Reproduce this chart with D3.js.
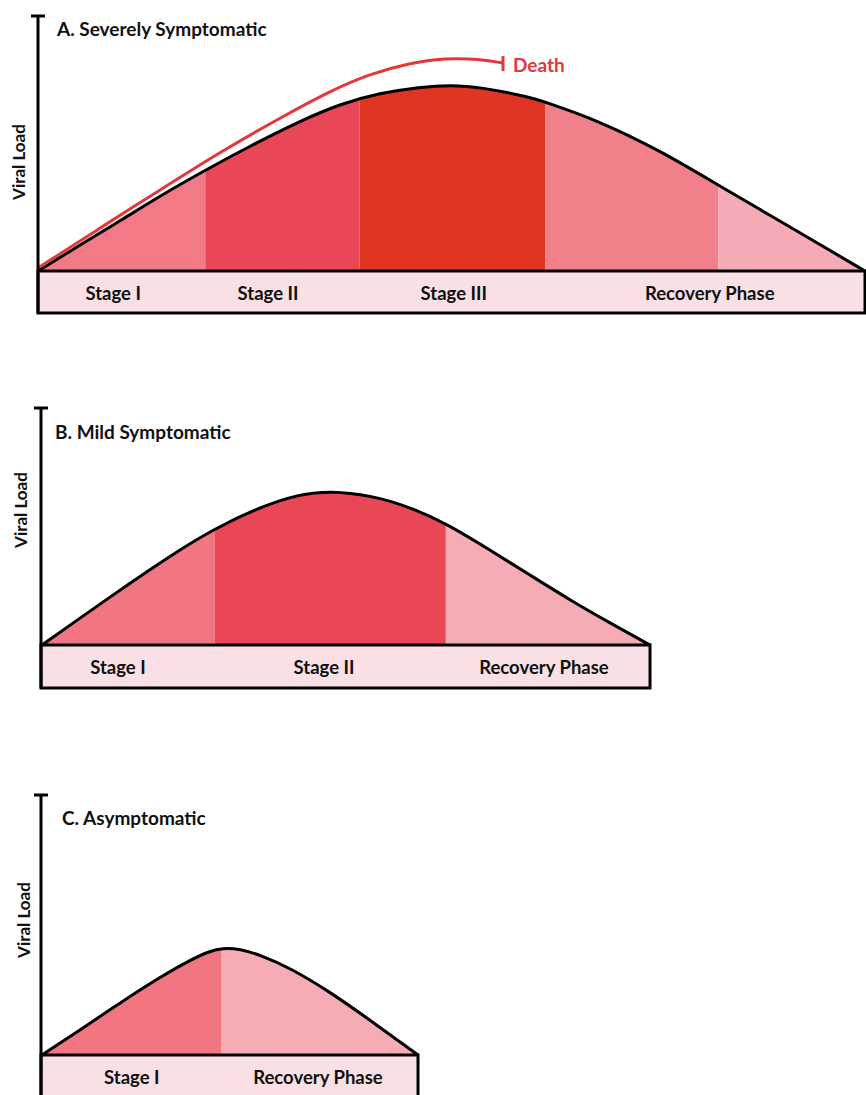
<!DOCTYPE html>
<html><head><meta charset="utf-8">
<script src="https://cdn.jsdelivr.net/npm/d3@7"></script>
<style>
html,body{margin:0;padding:0;background:#fff;}
svg{display:block;font-family:Lato,"Open Sans",sans-serif;font-weight:700;}
</style></head>
<body>
<script>
// ---------- DATA (time in days, viral load in relative units; peak of A = 100) ----------
const panelTitles = ["A. Severely Symptomatic", "B. Mild Symptomatic", "C. Asymptomatic"];
const yAxisLabel = "Viral Load";

// Panel A – severely symptomatic
const stagesA = ["Stage I", "Stage II", "Stage III", "Recovery Phase", ""];
const stageBoundsA = [0, 4.45, 8.55, 13.5, 18.1, 22];
const stageLabelPosA = [2.0, 6.12, 11.06, 17.87];
const stageColorsA = ["#f27a86", "#e94657", "#e03523", "#f2808a", "#f5abb5"];
const curveA = [[0,0],[1.12,14.0],[2.18,26.9],[3.24,40.3],[4.41,53.8],[5.64,67.2],[6.97,80.6],
  [8.03,89.8],[9.10,95.7],[10.16,98.9],[10.96,100],[11.76,98.9],[13.09,93.5],[13.48,90.9],
  [14.87,81.2],[16.62,64.0],[18.09,46.2],[20.19,21.5],[22,0]];
const deathLine = [[0,1.6],[1.65,23.1],[3.24,43.5],[4.89,64.5],[6.44,82.3],[7.77,96.8],[8.83,106.0],
  [9.89,111.8],[10.82,114.5],[11.76,114.0],[12.37,111.8]];
const deathLabel = "Death";

// Panel B – mild symptomatic
const stagesB = ["Stage I", "Stage II", "Recovery Phase"];
const stageBoundsB = [0, 4.6, 10.74, 16.17];
const stageLabelPosB = [2.02, 7.5, 13.35];
const stageColorsB = ["#f27681", "#e94656", "#f5acb5"];
const curveB = [[0,0],[1.01,14.5],[2.31,32.8],[3.40,47.8],[4.57,62.4],[5.80,74.2],[6.86,81.2],
  [7.66,82.8],[8.72,80.6],[9.79,74.2],[10.77,65.1],[11.91,51.1],[12.98,37.6],[14.04,24.2],
  [15.11,11.8],[16.17,0]];

// Panel C – asymptomatic
const stagesC = ["Stage I", "Recovery Phase"];
const stageBoundsC = [0, 4.76, 10];
const stageLabelPosC = [2.39, 7.34];
const stageColorsC = ["#f27681", "#f5acb5"];
const curveC = [[0,0],[1.01,13.4],[2.07,28.0],[3.14,41.9],[3.94,51.1],[4.47,55.9],[4.79,57.5],
  [5.27,57.0],[5.80,53.8],[6.60,46.8],[7.66,33.9],[8.72,18.8],[9.52,7.0],[10,0]];

// ---------- LAYOUT ----------
const W = 866, H = 1095;
const PEAK_PX = 186;          // pixel height of 100 load units
const layout = [
  {axisX:38, x0:38, x1:865, base:271, boxH:42, axisTop:16, titleX:57, titleY:36, vlX:18, vlY:162},
  {axisX:41, x0:42, x1:650, base:645, boxH:43, axisTop:408, titleX:55, titleY:439, vlX:20, vlY:510},
  {axisX:41, x0:42, x1:418, base:1055, boxH:48, axisTop:795, titleX:62, titleY:825, vlX:23, vlY:920}
];
const panels = [
  {title:panelTitles[0], stages:stagesA, bounds:stageBoundsA, labelPos:stageLabelPosA, colors:stageColorsA, curve:curveA, death:deathLine},
  {title:panelTitles[1], stages:stagesB, bounds:stageBoundsB, labelPos:stageLabelPosB, colors:stageColorsB, curve:curveB},
  {title:panelTitles[2], stages:stagesC, bounds:stageBoundsC, labelPos:stageLabelPosC, colors:stageColorsC, curve:curveC}
];

const svg = d3.select("body").append("svg").attr("width", W).attr("height", H);
const defs = svg.append("defs");
const interp = d3.curveBasis;

panels.forEach((p, i) => {
  const L = layout[i];
  const tEnd = p.bounds[p.bounds.length - 1];
  const x = d3.scaleLinear().domain([0, tEnd]).range([L.x0, L.x1]);
  const y = d3.scaleLinear().domain([0, 100]).range([L.base, L.base - PEAK_PX]);
  const g = svg.append("g");

  const area = d3.area().x(d => x(d[0])).y0(y(0)).y1(d => y(d[1])).curve(interp);
  const line = d3.line().x(d => x(d[0])).y(d => y(d[1])).curve(interp);

  const clipId = "clip" + i;
  defs.append("clipPath").attr("id", clipId).append("path").attr("d", area(p.curve));

  // stage fills
  g.append("g").attr("clip-path", `url(#${clipId})`)
    .selectAll("rect").data(p.colors).join("rect")
    .attr("x", (c, k) => x(p.bounds[k]))
    .attr("width", (c, k) => x(p.bounds[k + 1]) - x(p.bounds[k]))
    .attr("y", y(130)).attr("height", y(0) - y(130))
    .attr("fill", c => c);

  // curve outline
  g.append("path").attr("d", line(p.curve)).attr("fill", "none")
    .attr("stroke", "#000").attr("stroke-width", 3).attr("stroke-linejoin", "round");

  // death line
  if (p.death) {
    const red = "#e2383a";
    g.append("path").attr("d", line(p.death)).attr("fill", "none")
      .attr("stroke", red).attr("stroke-width", 3);
    const last = p.death[p.death.length - 1];
    g.append("line").attr("x1", x(last[0])).attr("x2", x(last[0]))
      .attr("y1", y(last[1]) - 7).attr("y2", y(last[1]) + 8)
      .attr("stroke", red).attr("stroke-width", 3);
    g.append("text").attr("x", x(last[0]) + 10).attr("y", y(last[1]) + 1)
      .attr("dominant-baseline", "central").attr("fill", red)
      .attr("font-size", 19).text(deathLabel);
  }

  // phase box
  g.append("rect").attr("x", L.axisX).attr("y", L.base)
    .attr("width", L.x1 - L.axisX).attr("height", L.boxH)
    .attr("fill", "#f8e0e5").attr("stroke", "#000").attr("stroke-width", 3);

  g.selectAll("text.stage").data(p.stages.filter(s => s)).join("text")
    .attr("class", "stage")
    .attr("x", (s, k) => x(p.labelPos[k]))
    .attr("y", L.base + 21.5)
    .attr("text-anchor", "middle").attr("dominant-baseline", "central")
    .attr("font-size", 18.5).attr("fill", "#111").text(s => s);

  // y axis with cap
  g.append("line").attr("x1", L.axisX).attr("x2", L.axisX)
    .attr("y1", L.axisTop).attr("y2", L.base + L.boxH)
    .attr("stroke", "#000").attr("stroke-width", 3);
  g.append("line").attr("x1", L.axisX - 7).attr("x2", L.axisX + 7)
    .attr("y1", L.axisTop).attr("y2", L.axisTop)
    .attr("stroke", "#000").attr("stroke-width", 3);

  // title
  g.append("text").attr("x", L.titleX).attr("y", L.titleY)
    .attr("font-size", 19).attr("fill", "#111").text(p.title);

  // y label
  g.append("text").attr("transform", `translate(${L.vlX},${L.vlY}) rotate(-90)`)
    .attr("text-anchor", "middle").attr("dominant-baseline", "central")
    .attr("font-size", 17).attr("fill", "#111").text(yAxisLabel);
});
</script>
</body></html>
